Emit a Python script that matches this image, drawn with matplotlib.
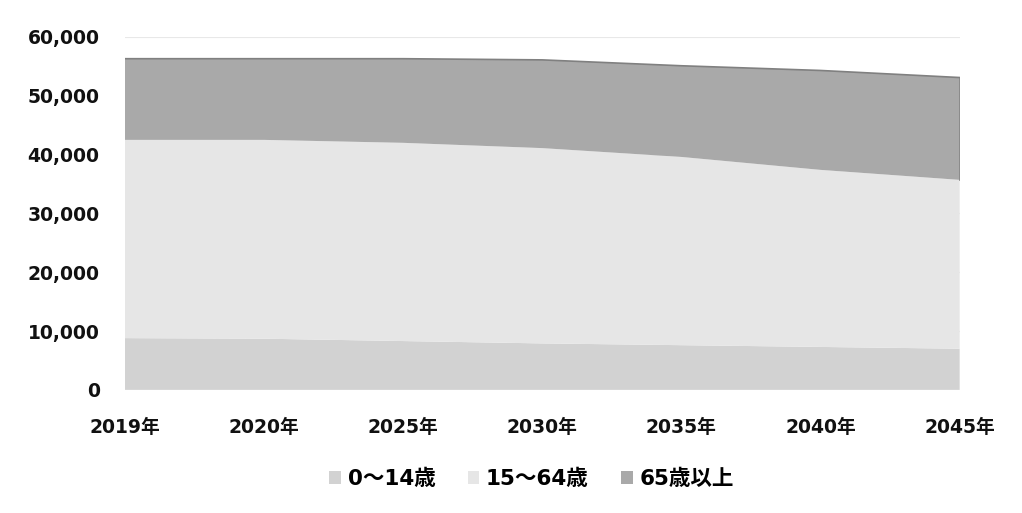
import matplotlib
matplotlib.use("Agg")
import matplotlib.pyplot as plt
from matplotlib.patches import Patch
from matplotlib.ticker import FuncFormatter

plt.rcParams['font.family'] = ['DejaVu Sans', 'Noto Sans CJK JP']

years = ['2019年', '2020年', '2025年', '2030年', '2035年', '2040年', '2045年']
age_0_14 = [8800, 8700, 8300, 7900, 7600, 7300, 7000]
age_15_64 = [33700, 33800, 33700, 33200, 32000, 30100, 28700]
age_65_plus = [13800, 13800, 14300, 15000, 15500, 16900, 17400]
labels = ['0～14歳', '15～64歳', '65歳以上']
colors = ['#d2d2d2', '#e6e6e6', '#a9a9a9']

fig = plt.figure(figsize=(10.22, 5.13), dpi=100)
ax = fig.add_axes([0.122, 0.240, 0.817, 0.688])
x = list(range(len(years)))
ax.stackplot(x, age_0_14, age_15_64, age_65_plus, colors=colors, labels=labels)
totals = [a + b + c for a, b, c in zip(age_0_14, age_15_64, age_65_plus)]
ax.plot(x, totals, color='#808080', lw=1.2)
ax.plot([x[-1], x[-1]], [age_0_14[-1] + age_15_64[-1], totals[-1]], color='#808080', lw=1.2)

ax.set_xlim(0, len(years) - 1)
ax.set_ylim(0, 60000)
ax.set_yticks(range(0, 60001, 10000))
ax.yaxis.set_major_formatter(FuncFormatter(lambda v, p: f'{int(v):,}'))
ax.set_xticks(x)
ax.set_xticklabels(years)
for lab in ax.get_xticklabels() + ax.get_yticklabels():
    lab.set_fontweight('bold')
    lab.set_fontsize(13.5)
    lab.set_color('#111111')
ax.tick_params(axis='x', length=0, pad=20)
ax.tick_params(axis='y', length=0, pad=18)
ax.grid(axis='y', color='#e8e8e8', lw=0.8)
ax.set_axisbelow(True)
for s in ax.spines.values():
    s.set_visible(False)

handles = [Patch(facecolor=c, edgecolor='none') for c in colors]
fig.legend(handles, labels, loc='center', bbox_to_anchor=(0.52, 0.067), ncol=3,
           frameon=False, prop={'weight': 'bold', 'size': 15.5}, handlelength=0.55,
           handleheight=0.55, columnspacing=1.5, handletextpad=0.3)

fig.savefig('out.png', dpi=100, facecolor='white')
